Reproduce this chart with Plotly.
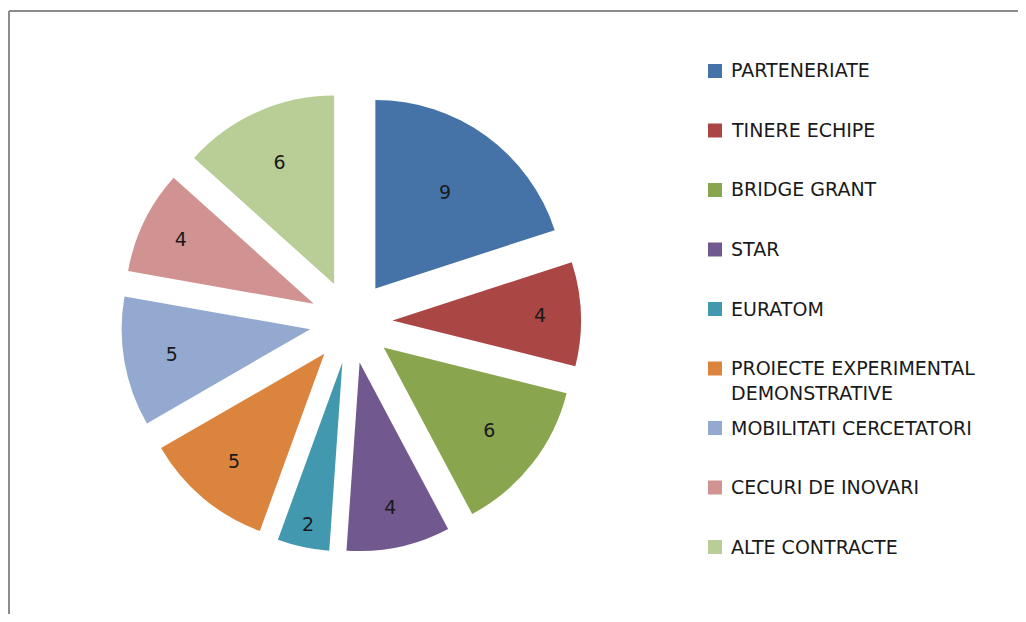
import plotly.graph_objects as go

# ── Data ──────────────────────────────────────────────────────────────────
labels = [
    "PARTENERIATE",
    "TINERE ECHIPE",
    "BRIDGE GRANT",
    "STAR",
    "EURATOM",
    "PROIECTE EXPERIMENTAL<br>DEMONSTRATIVE",
    "MOBILITATI CERCETATORI",
    "CECURI DE INOVARI",
    "ALTE CONTRACTE",
]
values = [9, 4, 6, 4, 2, 5, 5, 4, 6]
colors = [
    "#4572A7", "#AA4643", "#89A54E", "#71588F", "#4198AF",
    "#DB843D", "#93A9CF", "#D19392", "#B9CD96",
]

# ── Canvas ────────────────────────────────────────────────────────────────
# page body has an 8px margin, so the figure is sized to fit inside it
W, H = 1010, 606
OFF = 8
_FONT = "DejaVu Sans, Verdana, sans-serif"
_TXT = "#1a1a1a"
_BORDER = "#8c8c8c"


def px_x(x):
    """screen px -> paper x"""
    return (x - OFF) / W


def px_y(y):
    """screen px -> paper y"""
    return 1 - (y - OFF) / H


fig = go.Figure(go.Pie(
    labels=labels,
    values=values,
    sort=False,
    direction="clockwise",
    rotation=0,
    pull=0.22,
    marker=dict(colors=colors, line=dict(width=0)),
    textinfo="value",
    textposition="inside",
    insidetextorientation="horizontal",
    insidetextfont=dict(family=_FONT, size=19, color=_TXT),
    domain=dict(x=[px_x(121), px_x(581)], y=[px_y(552), px_y(92)]),
    showlegend=False,
    hovertemplate="%{label}: %{value}<extra></extra>",
))

# ── Manual legend (Excel style: fixed slot per entry) ─────────────────────
shapes = []
annotations = []
for i, (lab, col) in enumerate(zip(labels, colors)):
    yc = 71 + 59.5 * i
    shapes.append(dict(
        type="rect", xref="paper", yref="paper",
        x0=px_x(708), x1=px_x(722), y0=px_y(yc + 7), y1=px_y(yc - 7),
        fillcolor=col, line=dict(width=0),
    ))
    annotations.append(dict(
        xref="paper", yref="paper",
        x=px_x(729), y=px_y(yc - 13.5),
        xanchor="left", yanchor="top", align="left",
        text=lab, showarrow=False,
        font=dict(family=_FONT, size=19, color=_TXT),
    ))

# chart-area frame (only top and left edges visible)
shapes.append(dict(type="line", xref="paper", yref="paper",
                   x0=px_x(9), x1=1, y0=px_y(11), y1=px_y(11),
                   line=dict(color=_BORDER, width=2)))
shapes.append(dict(type="line", xref="paper", yref="paper",
                   x0=px_x(9), x1=px_x(9), y0=px_y(11), y1=0,
                   line=dict(color=_BORDER, width=2)))

fig.update_layout(
    width=W,
    height=H,
    margin=dict(l=0, r=0, t=0, b=0),
    paper_bgcolor="white",
    plot_bgcolor="white",
    font=dict(family=_FONT, color=_TXT),
    shapes=shapes,
    annotations=annotations,
)

fig.write_html("out.html")
